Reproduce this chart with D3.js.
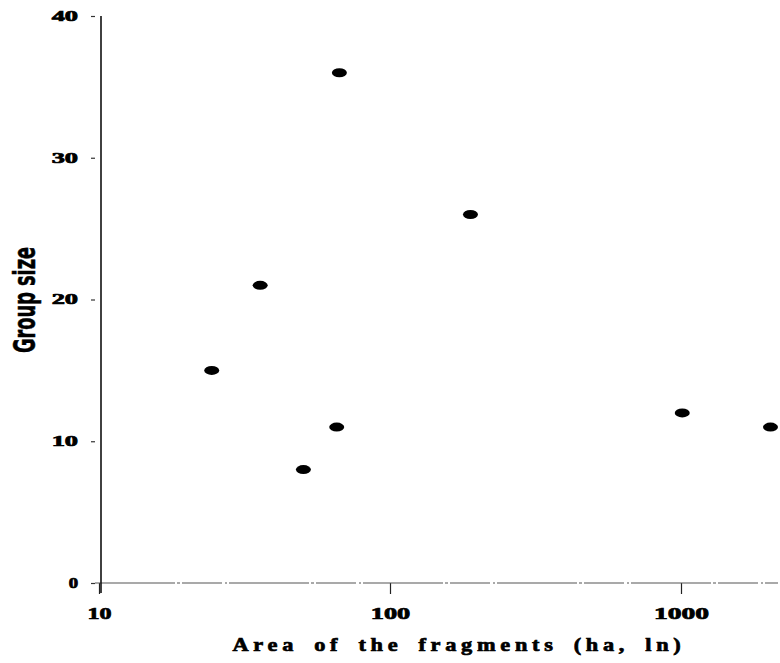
<!DOCTYPE html>
<html>
<head>
<meta charset="utf-8">
<script src="https://cdn.jsdelivr.net/npm/d3@7"></script>
<style>
  html, body { margin: 0; padding: 0; background: #fff; }
  svg { display: block; }
</style>
</head>
<body>
<svg id="chart" width="780" height="663"></svg>
<script>
// Fragment area (ha) and observed group size
const areas      = [24.4, 35.8, 50.4, 65.6, 67, 189, 1010, 2030];
const groupSizes = [15, 21, 8, 11, 36, 26, 12, 11];
const xTicks = [10, 100, 1000];
const yTicks = [0, 10, 20, 30, 40];

const svg = d3.select("#chart");

const x = d3.scaleLog().domain([10, 2200]).range([99, 99 + 291 * Math.log10(220)]);
const y = d3.scaleLinear().domain([0, 40]).range([583, 16]);

const tickFont = "'Liberation Serif', 'DejaVu Serif', serif";

// wide, heavy serif lettering
function heavy(sel, size, perChar) {
  sel.attr("font-family", tickFont)
    .attr("font-weight", "bold")
    .attr("font-size", size)
    .attr("fill", "#000")
    .attr("stroke", "#000")
    .attr("stroke-width", 0.7);
  if (perChar) {
    sel.attr("textLength", function () { return this.textContent.length * perChar - perChar * 0.45; })
      .attr("lengthAdjust", "spacingAndGlyphs");
  }
}

// x axis
const xAxis = d3.axisBottom(x)
  .tickValues(xTicks)
  .tickFormat(d3.format("d"))
  .tickSize(11)
  .tickPadding(14);

const gx = svg.append("g")
  .attr("transform", `translate(0,${y(0)})`)
  .call(xAxis);
gx.select(".domain").remove();
gx.append("line")
  .attr("x1", x(10) - 4).attr("x2", 778)
  .attr("stroke", "#555").attr("stroke-width", 1.2)
  .attr("stroke-dasharray", "80,2,3,2,40,3,2,2");
gx.selectAll(".tick line").attr("stroke", "#222").attr("stroke-width", 1.2);
heavy(gx.selectAll(".tick text"), 16, 15.5);

// y axis
const yAxis = d3.axisLeft(y)
  .tickValues(yTicks)
  .tickFormat(d3.format("d"))
  .tickSize(0)
  .tickPadding(23);

const gy = svg.append("g")
  .attr("transform", `translate(${x(10) + 2},0)`)
  .call(yAxis);
gy.select(".domain").remove();
gy.append("line")
  .attr("x1", 0).attr("x2", 0)
  .attr("y1", y(40)).attr("y2", y(0) + 10)
  .attr("stroke", "#111").attr("stroke-width", 1.6);
gy.selectAll(".tick").append("line")
  .attr("x1", -10).attr("x2", -6)
  .attr("stroke", "#333").attr("stroke-width", 1.2);
heavy(gy.selectAll(".tick text"), 14, 17);

// points
svg.append("g")
  .selectAll("ellipse")
  .data(areas.map((a, i) => ({ a, g: groupSizes[i] })))
  .join("ellipse")
  .attr("cx", d => x(d.a))
  .attr("cy", d => y(d.g))
  .attr("rx", 7.5)
  .attr("ry", 4.5)
  .attr("fill", "#000");

// axis titles
const xTitle = svg.append("text")
  .attr("x", 459)
  .attr("y", 651)
  .attr("text-anchor", "middle")
  .attr("textLength", 453)
  .attr("lengthAdjust", "spacingAndGlyphs")
  .attr("letter-spacing", "4px")
  .attr("word-spacing", "5px")
  .text("Area of the fragments (ha, ln)");
heavy(xTitle, 19);

svg.append("text")
  .attr("transform", "translate(35,300) rotate(-90)")
  .attr("text-anchor", "middle")
  .attr("font-family", "'Liberation Sans Narrow', 'DejaVu Sans Condensed', sans-serif")
  .attr("font-weight", "bold")
  .attr("font-size", 30)
  .attr("textLength", 106)
  .attr("lengthAdjust", "spacingAndGlyphs")
  .attr("fill", "#000")
  .attr("stroke", "#000")
  .attr("stroke-width", 0.5)
  .text("Group size");
</script>
</body>
</html>
